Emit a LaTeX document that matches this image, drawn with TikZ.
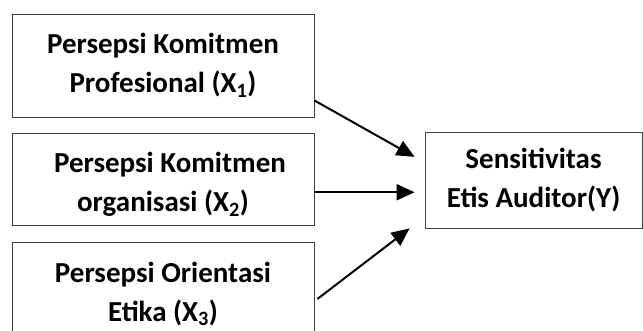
\documentclass[tikz,border=0pt]{standalone}
\usepackage{fontspec}
\setmainfont{Carlito}
\usetikzlibrary{arrows.meta,positioning}

\begin{document}
\begin{tikzpicture}[x=1pt,y=-1pt,
    var/.style={draw=black!75, line width=0.8pt, minimum width=302pt, align=center,
      inner sep=0pt, font=\fontsize{29}{39}\selectfont\bfseries},
    arr/.style={-{Triangle[length=18pt,width=16pt]}, line width=2pt}]
  \useasboundingbox (0,0) rectangle (643,330);
  \node[var, minimum height=103pt] (x1) at (163,65.5) {Persepsi Komitmen\\Profesional (X\textsubscript{1})};
  \node[var, minimum height=92pt] (x2) at (163,179) {\rule{0pt}{31pt}\hspace*{14pt}Persepsi Komitmen\\organisasi (X\textsubscript{2})};
  \node[var, minimum height=104pt] (x3) at (163,294) {Persepsi Orientasi\\Etika (X\textsubscript{3})};
  \node[var, minimum width=217pt, minimum height=96pt] (y) at (533.5,180) {Sensitivitas\\Etis Auditor(Y)};
  \draw[arr] (x1.-13.6) -- ([xshift=-10pt]y.168.5);
  \draw[arr, shorten >=10pt] (x2.-5.3) -- (x2.-5.3 -| y.west);
  \draw[arr] ([xshift=3pt,yshift=-5pt]x3.east) -- ([xshift=-15pt]y.south west);
\end{tikzpicture}
\end{document}
